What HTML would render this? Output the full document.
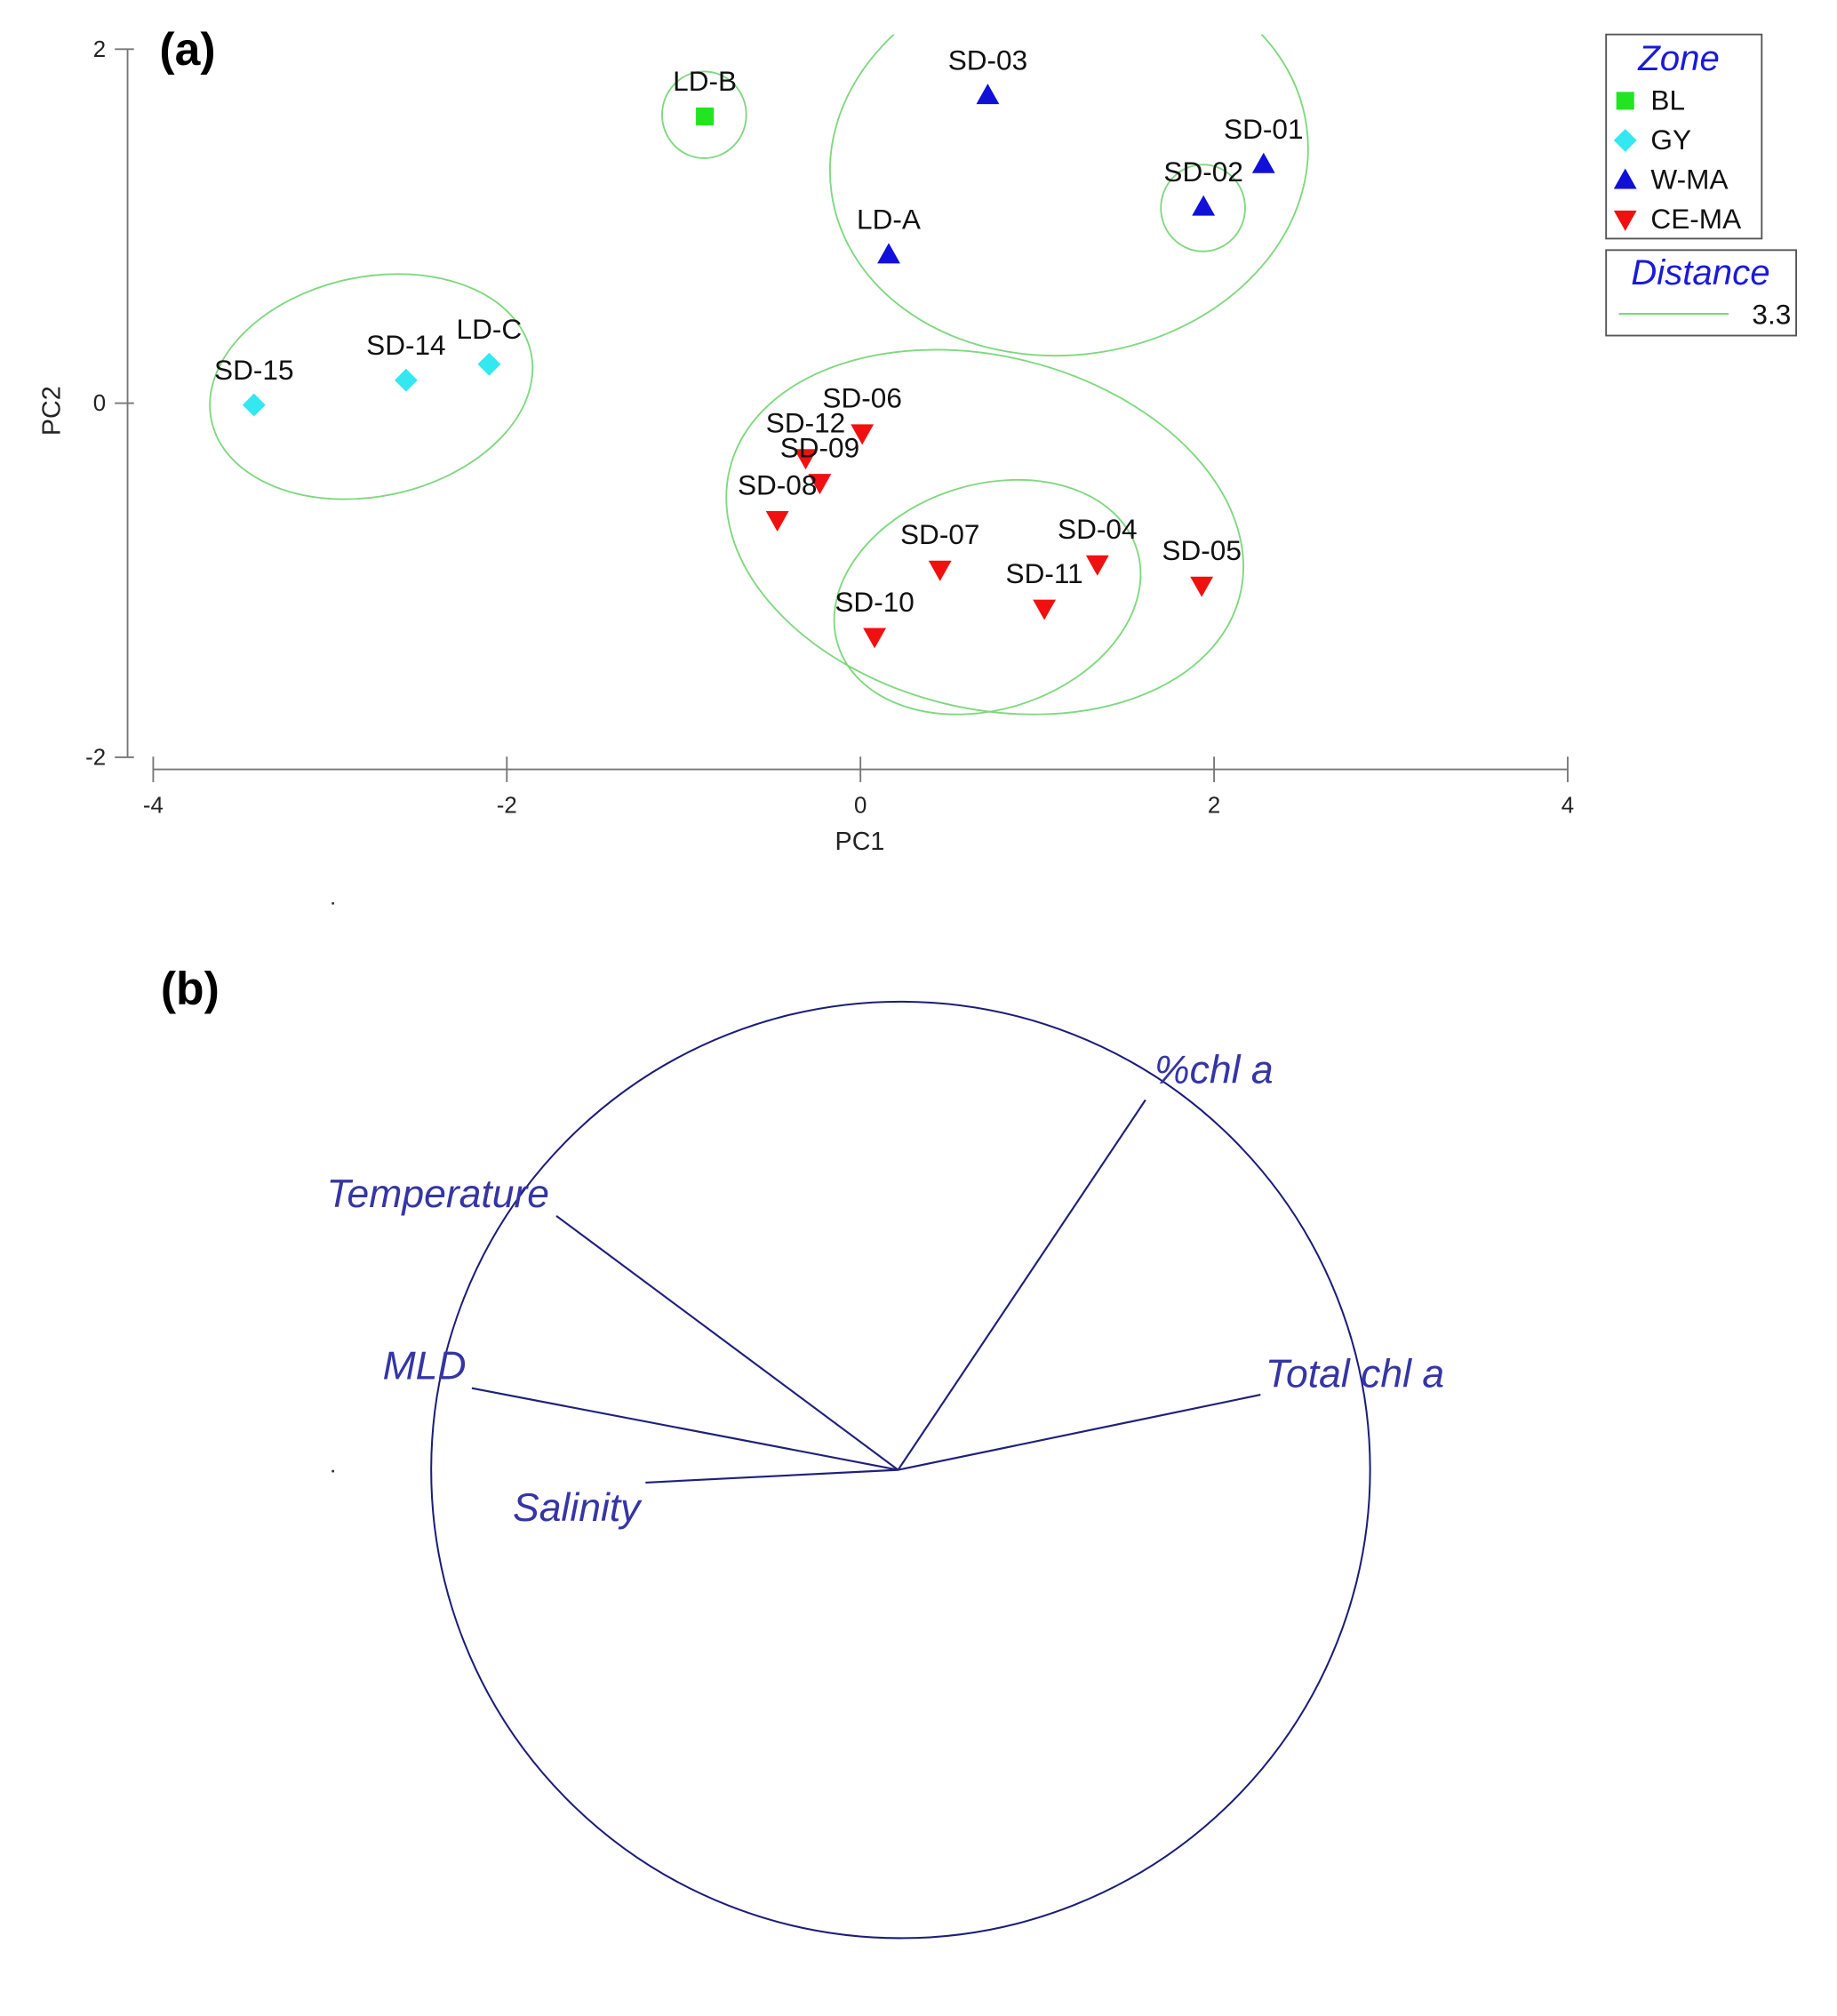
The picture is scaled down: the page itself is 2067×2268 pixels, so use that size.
<!DOCTYPE html>
<html><head><meta charset="utf-8"><style>
html,body{margin:0;padding:0;background:#fff;}
svg{display:block;}
text{font-family:"Liberation Sans",Arial,sans-serif;}
</style></head><body>
<svg id="fig" width="2067" height="2268" viewBox="0 0 1440 1580" preserveAspectRatio="none" xmlns="http://www.w3.org/2000/svg">
<defs><clipPath id="plotclip"><rect x="100" y="27" width="1140" height="570"/></clipPath></defs>
<g id="pa"></g>
<g id="pb"></g>
</svg>
<script>
const NS="http://www.w3.org/2000/svg";
const sampleNames=["LD-B","SD-03","SD-01","SD-02","LD-A","SD-15","SD-14","LD-C","SD-06","SD-12","SD-09","SD-08","SD-07","SD-04","SD-11","SD-05","SD-10"];
const pc1Values=[-0.88,0.72,2.28,1.94,0.16,-3.43,-2.57,-2.10,0.01,-0.31,-0.23,-0.47,0.45,1.34,1.04,1.93,0.08];
const pc2Values=[1.62,1.74,1.35,1.11,0.84,-0.01,0.13,0.22,-0.17,-0.31,-0.45,-0.66,-0.94,-0.91,-1.16,-1.03,-1.32];
const sampleZones=["BL","W-MA","W-MA","W-MA","W-MA","GY","GY","GY","CE-MA","CE-MA","CE-MA","CE-MA","CE-MA","CE-MA","CE-MA","CE-MA","CE-MA"];
const zoneNames=["BL","GY","W-MA","CE-MA"];
const xTicks=[-4,-2,0,2,4];
const yTicks=[2,0,-2];
const varNames=["Temperature","%chl a","MLD","Total chl a","Salinity"];
const loadX=[-0.728,0.527,-0.908,0.772,-0.538];
const loadY=[0.541,0.788,0.174,0.160,-0.027];

function el(tag,attrs,parent,txt){const e=document.createElementNS(NS,tag);for(const k in attrs)e.setAttribute(k,attrs[k]);if(txt!==undefined)e.textContent=txt;parent.appendChild(e);return e;}
const xS=v=>674.5+v*138.6;
const yS=v=>316-v*138.75;
const pa=document.getElementById('pa');
function marker(zone,x,y,parent){
  let e;
  if(zone==="BL") e=el('rect',{x:x-7,y:y-7,width:14,height:14,fill:'#22e522'},parent);
  else if(zone==="GY") e=el('polygon',{points:`${x},${y-9} ${x+9},${y} ${x},${y+9} ${x-9},${y}`,fill:'#33e8f0'},parent);
  else if(zone==="W-MA") e=el('polygon',{points:`${x},${y-9} ${x+9},${y+7} ${x-9},${y+7}`,fill:'#1010d8'},parent);
  else e=el('polygon',{points:`${x-9},${y-7} ${x+9},${y-7} ${x},${y+9}`,fill:'#f01010'},parent);
  return e;
}
const ax=el('g',{stroke:'#777','stroke-width':1.3,fill:'none'},pa);


el('line',{x1:100,y1:38,x2:100,y2:593},ax);
el('line',{x1:120,y1:603,x2:1229,y2:603},ax);
yTicks.forEach(t=>{el('line',{x1:90,y1:yS(t),x2:105,y2:yS(t)},ax);
  const tl=el('text',{x:83,y:yS(t)+6,'text-anchor':'end','font-size':18,fill:'#222'},pa,String(t));
  
  });
xTicks.forEach(t=>{el('line',{x1:xS(t),y1:593,x2:xS(t),y2:613},ax);
  const tl=el('text',{x:xS(t),y:637,'text-anchor':'middle','font-size':18,fill:'#222'},pa,String(t));
  
  });
let t=el('text',{x:674,y:666,'text-anchor':'middle','font-size':20,fill:'#222'},pa,'PC1');

t=el('text',{x:47,y:322,'text-anchor':'middle','font-size':20,fill:'#222',transform:'rotate(-90 47 322)'},pa,'PC2');

t=el('text',{x:125,y:51,'font-size':36,'font-weight':'bold',fill:'#000'},pa,'(a)');

const eg=el('g',{stroke:'#7fd87f','stroke-width':1.3,fill:'none','clip-path':'url(#plotclip)'},pa);


el('ellipse',{cx:552,cy:90,rx:33,ry:34},eg);
el('ellipse',{cx:838,cy:125,rx:188,ry:153,transform:'rotate(-8 838 125)'},eg);
el('ellipse',{cx:943,cy:163,rx:33,ry:34},eg);
el('ellipse',{cx:291,cy:303,rx:128,ry:86,transform:'rotate(-12 291 303)'},eg);
el('ellipse',{cx:772,cy:417,rx:206,ry:138,transform:'rotate(14 772 417)'},eg);
el('ellipse',{cx:774,cy:468,rx:123,ry:88,transform:'rotate(-18 774 468)'},eg);
sampleNames.forEach((n,i)=>{
  const x=xS(pc1Values[i]),y=yS(pc2Values[i]);
  const m=marker(sampleZones[i],x,y,pa);
  
  
  const l=el('text',{x:x,y:y-20,'text-anchor':'middle','font-size':22,fill:'#111'},pa,n);
  
  
});
const lg=el('g',{},pa);


el('rect',{x:1259,y:27,width:122,height:160,fill:'#fff',stroke:'#555','stroke-width':1.3},lg);
el('text',{x:1316,y:55,'text-anchor':'middle','font-size':28,'font-style':'italic',fill:'#1a1ad8'},lg,'Zone');
zoneNames.forEach((z,i)=>{const y=78+i*31;
  const m=marker(z,1274,y+1,lg);
  
  
  const tx=el('text',{x:1294,y:y+8,'font-size':22,fill:'#111'},lg,z);
  
  });
const lg2=el('g',{},pa);


el('rect',{x:1259,y:196,width:149,height:67,fill:'#fff',stroke:'#555','stroke-width':1.3},lg2);
el('text',{x:1333,y:223,'text-anchor':'middle','font-size':28,'font-style':'italic',fill:'#1a1ad8'},lg2,'Distance');
el('line',{x1:1269,y1:246,x2:1355,y2:246,stroke:'#7fd87f','stroke-width':1.5},lg2);
el('text',{x:1404,y:254,'text-anchor':'end','font-size':22,fill:'#111'},lg2,'3.3');

const pb=document.getElementById('pb');
t=el('text',{x:126,y:787,'font-size':36,'font-weight':'bold',fill:'#000'},pb,'(b)');

el('circle',{cx:261,cy:708,r:1,fill:'#333'},pb);
el('circle',{cx:261,cy:1153,r:1,fill:'#333'},pb);
const cx=706,cy=1152,R=368,ox=704,oy=1152;
const c=el('ellipse',{cx:cx,cy:cy,rx:368,ry:367,fill:'none',stroke:'#1c1c7a','stroke-width':1.4},pb);


const labPos=[[256,946],[905,849],[300,1081],[992,1087],[402,1192]];
varNames.forEach((n,i)=>{
  const ex=ox+loadX[i]*R,ey=oy-loadY[i]*R;
  const ln=el('line',{x1:ox,y1:oy,x2:ex,y2:ey,stroke:'#20207a','stroke-width':1.5},pb);
  
  
  const tx=el('text',{x:labPos[i][0],y:labPos[i][1],'font-size':31,'font-style':'italic',fill:'#3535a5'},pb,n);
  
  
});
</script>
</body></html>
